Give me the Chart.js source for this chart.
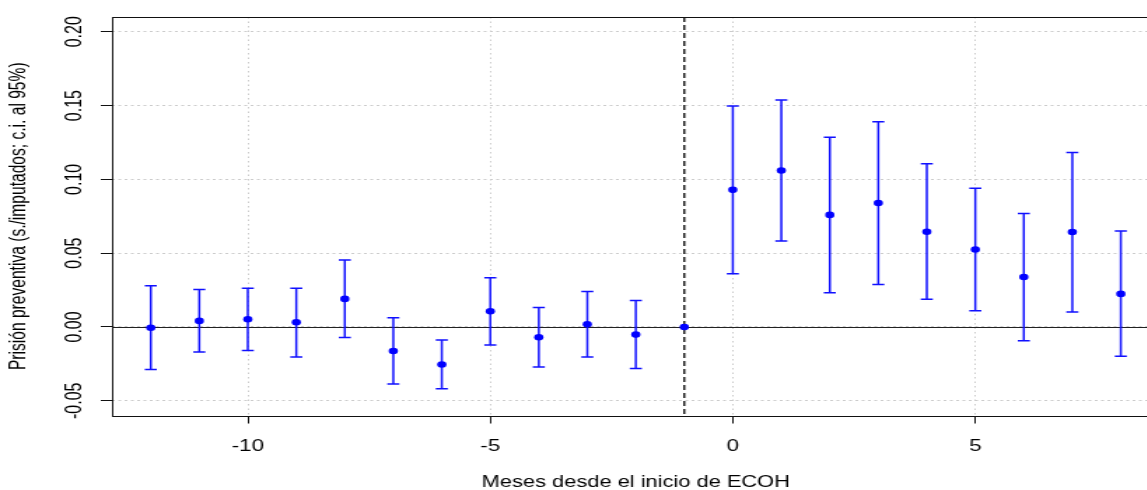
<!DOCTYPE html>
<html>
<head>
<meta charset="utf-8">
<script src="https://cdn.jsdelivr.net/npm/chart.js@4.4.1/dist/chart.umd.min.js"></script>
<style>
  html, body { margin: 0; padding: 0; background: #fff; overflow: hidden; }
  /* the original picture is stretched sideways, so the canvas is too */
  #wrap { width: 840px; height: 490px; transform: scaleX(1.4); transform-origin: 0 0; }
</style>
</head>
<body>
<div id="wrap"><canvas id="plot" width="840" height="490"></canvas></div>
<script>
const months = [-12, -11, -10, -9, -8, -7, -6, -5, -4, -3, -2, -1, 0, 1, 2, 3, 4, 5, 6, 7, 8];
const estimates = [-0.0005, 0.0041, 0.0052, 0.0032, 0.0190, -0.0163, -0.0254, 0.0106, -0.0070, 0.0018, -0.0052,
    0.0000, 0.0929, 0.1060, 0.0759, 0.0840, 0.0645, 0.0525, 0.0338, 0.0643, 0.0224];
const ciLower = [-0.0288, -0.0170, -0.0159, -0.0204, -0.0072, -0.0387, -0.0419, -0.0122, -0.0272, -0.0204, -0.0281,
    null, 0.0360, 0.0582, 0.0231, 0.0287, 0.0188, 0.0110, -0.0093, 0.0101, -0.0199];
const ciUpper = [0.0279, 0.0254, 0.0263, 0.0263, 0.0453, 0.0063, -0.0088, 0.0333, 0.0131, 0.0240, 0.0179,
    null, 0.1497, 0.1538, 0.1286, 0.1390, 0.1105, 0.0940, 0.0768, 0.1182, 0.0650];
const xTickValues = [-10, -5, 0, 5];
const yTickValues = [-0.05, 0.00, 0.05, 0.10, 0.15, 0.20];
const eventMonth = -1;
const xTitle = 'Meses desde el inicio de ECOH';
const yTitle = 'Prisión preventiva (s./imputados; c.i. al 95%)';

const FONT = '"Liberation Sans", Arial, Helvetica, sans-serif';

// R-like extras: reference lines, error bars, box, labels
const rStyle = {
    id: 'rStyle',
    beforeDatasetsDraw(chart) {
        const { ctx, chartArea: area, scales: { x, y } } = chart;
        ctx.save();

        // horizontal line at zero
        const y0 = Math.round(y.getPixelForValue(0)) + 0.5;
        ctx.strokeStyle = '#222';
        ctx.lineWidth = 1;
        ctx.beginPath();
        ctx.moveTo(area.left, y0);
        ctx.lineTo(area.right, y0);
        ctx.stroke();

        // dashed line at the start month
        const xe = x.getPixelForValue(eventMonth);
        ctx.strokeStyle = '#000';
        ctx.lineWidth = 1.3;
        ctx.setLineDash([5, 3]);
        ctx.beginPath();
        ctx.moveTo(xe, area.top);
        ctx.lineTo(xe, area.bottom);
        ctx.stroke();
        ctx.setLineDash([]);

        // confidence intervals
        ctx.strokeStyle = '#1010ff';
        ctx.lineWidth = 1.5;
        const cap = 4.3;
        months.forEach((m, i) => {
            if (ciLower[i] === null) return;
            const px = x.getPixelForValue(m);
            const lo = y.getPixelForValue(ciLower[i]);
            const hi = y.getPixelForValue(ciUpper[i]);
            ctx.beginPath();
            ctx.moveTo(px, lo);
            ctx.lineTo(px, hi);
            ctx.moveTo(px - cap, lo);
            ctx.lineTo(px + cap, lo);
            ctx.moveTo(px - cap, hi);
            ctx.lineTo(px + cap, hi);
            ctx.stroke();
        });
        ctx.restore();
    },
    afterDraw(chart) {
        const { ctx, chartArea: area, scales: { x, y } } = chart;
        ctx.save();

        // box
        ctx.strokeStyle = '#111';
        ctx.lineWidth = 1;
        ctx.strokeRect(area.left + 0.5, Math.round(area.top) + 0.5,
            area.right - area.left, Math.round(area.bottom - area.top));

        ctx.fillStyle = '#000';

        // x tick labels
        ctx.font = '16px ' + FONT;
        ctx.textAlign = 'center';
        ctx.textBaseline = 'alphabetic';
        x.ticks.forEach(t => {
            ctx.fillText(String(t.value), x.getPixelForValue(t.value), 451);
        });

        // y tick labels, turned like in R
        y.ticks.forEach(t => {
            ctx.save();
            ctx.translate(58.4, y.getPixelForValue(t.value));
            ctx.rotate(-Math.PI / 2);
            ctx.fillText(t.value.toFixed(2), 0, 0);
            ctx.restore();
        });

        // axis titles
        ctx.font = '15.6px ' + FONT;
        ctx.fillText(xTitle, (area.left + area.right) / 2, 487);

        ctx.save();
        ctx.translate(17.9, (area.top + area.bottom) / 2);
        ctx.rotate(-Math.PI / 2);
        ctx.fillText(yTitle, 0, 0);
        ctx.restore();

        ctx.restore();
    }
};

const gridStyle = {
    color: '#cccccc',
    lineWidth: 1,
    drawTicks: true,
    tickLength: 8,
    tickColor: '#111',
    tickWidth: 1,
    tickBorderDash: []
};

new Chart(document.getElementById('plot'), {
    type: 'scatter',
    data: {
        datasets: [{
            data: months.map((m, i) => ({ x: m, y: estimates[i] })),
            backgroundColor: '#0000ff',
            borderWidth: 0,
            pointRadius: 3.3,
            pointHoverRadius: 3.3
        }]
    },
    options: {
        responsive: false,
        animation: false,
        devicePixelRatio: 1,
        layout: { padding: { left: 0, right: 11.7, top: 17, bottom: 0 } },
        plugins: {
            legend: { display: false },
            tooltip: { enabled: false }
        },
        scales: {
            x: {
                type: 'linear',
                min: -12.8,
                max: 8.8,
                afterBuildTicks: scale => { scale.ticks = xTickValues.map(v => ({ value: v })); },
                afterFit: scale => { scale.height = 74.5; },
                ticks: { display: false },
                grid: gridStyle,
                border: { display: false, dash: [1.5, 3] }
            },
            y: {
                type: 'linear',
                min: -0.06,
                max: 0.21,
                afterBuildTicks: scale => { scale.ticks = yTickValues.map(v => ({ value: v })); },
                afterFit: scale => { scale.width = 80; },
                ticks: { display: false },
                grid: gridStyle,
                border: { display: false, dash: [2, 2.5] }
            }
        }
    },
    plugins: [rStyle]
});
</script>
</body>
</html>
